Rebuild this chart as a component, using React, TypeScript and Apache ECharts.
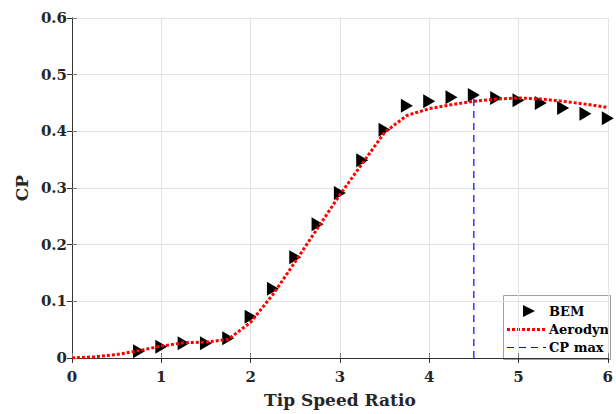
import React, { useEffect, useRef } from "react";
import * as echarts from "echarts";

const xBem = [0.75, 1.0, 1.25, 1.5, 1.75, 2.0, 2.25, 2.5, 2.75, 3.0, 3.25, 3.5, 3.75, 4.0, 4.25, 4.5, 4.75, 5.0, 5.25, 5.5, 5.75, 6.0];
const cpBem = [0.012, 0.02, 0.026, 0.026, 0.035, 0.073, 0.122, 0.178, 0.236, 0.291, 0.349, 0.403, 0.445, 0.453, 0.46, 0.464, 0.459, 0.455, 0.45, 0.441, 0.431, 0.423];

const xAero = [0, 0.25, 0.5, 0.75, 1.0, 1.25, 1.5, 1.75, 2.0, 2.25, 2.5, 2.75, 3.0, 3.25, 3.5, 3.75, 4.0, 4.25, 4.5, 4.75, 5.0, 5.25, 5.5, 5.75, 6.0];
const cpAero = [0, 0.002, 0.006, 0.013, 0.021, 0.027, 0.028, 0.033, 0.063, 0.112, 0.17, 0.229, 0.288, 0.343, 0.398, 0.428, 0.44, 0.447, 0.453, 0.457, 0.459, 0.457, 0.453, 0.448, 0.442];

const cpMaxX = 4.5;
const cpMaxY = 0.463;

const xTicks = [0, 1, 2, 3, 4, 5, 6];
const yTicks = [0, 0.1, 0.2, 0.3, 0.4, 0.5, 0.6];

const legendNames = ["BEM", "Aerodyn", "CP max"];

const FONT = "DejaVu Serif";
const TRI = "path://M0,0 L10,6 L0,12 Z";

export default function App() {
  const ref = useRef<HTMLDivElement>(null);
  useEffect(() => {
    const chart = echarts.init(ref.current!, null, { renderer: "svg" });
    const axisText = { fontFamily: FONT, fontWeight: "bold", fontSize: 15, color: "#262626" };
    const legendFont = { fontFamily: FONT, fontWeight: "bold", fontSize: 13, fill: "#000" };
    const rowY = [311, 329.5, 347.5];
    chart.setOption({
      animation: false,
      backgroundColor: "#ffffff",
      grid: { left: 72, right: 7, top: 18, bottom: 56 },
      graphic: [
        {
          type: "group",
          z: 100,
          children: [
            {
              type: "rect",
              shape: { x: 503.5, y: 295.5, width: 107, height: 64 },
              style: { fill: "#ffffff", stroke: "#a0a0a0", lineWidth: 1 },
            },
            {
              type: "polygon",
              shape: { points: [[523, 305], [535, 311], [523, 317]] },
              style: { fill: "#000000" },
            },
            {
              type: "line",
              shape: { x1: 507, y1: rowY[1], x2: 546, y2: rowY[1] },
              style: { stroke: "#ff0000", lineWidth: 3, lineDash: [3, 2] },
            },
            {
              type: "line",
              shape: { x1: 507, y1: rowY[2], x2: 546, y2: rowY[2] },
              style: { stroke: "#0000ff", lineWidth: 1.2, lineDash: [7, 5] },
            },
            ...legendNames.map((t, i) => ({
              type: "text",
              x: 549,
              y: rowY[i],
              style: { ...legendFont, text: t, verticalAlign: "middle", align: "left" },
            })),
          ],
        },
      ],
      xAxis: [
        {
          type: "value",
          min: 0,
          max: 6,
          interval: 1,
          name: "Tip Speed Ratio",
          nameLocation: "middle",
          nameGap: 33,
          nameTextStyle: { fontFamily: FONT, fontWeight: "bold", fontSize: 17, color: "#262626" },
          axisLine: { show: true, lineStyle: { color: "#7a7a7a", width: 1 } },
          axisTick: { show: true, inside: true, length: 5, lineStyle: { color: "#7a7a7a" } },
          axisLabel: { ...axisText, margin: 11, formatter: (v: number) => (xTicks.includes(v) ? String(v) : "") },
          splitLine: { show: true, lineStyle: { color: "#e3e3e3", width: 1 } },
        },
        {
          type: "value",
          position: "top",
          min: 0,
          max: 6,
          interval: 1,
          axisLine: { show: true, lineStyle: { color: "#333", width: 1 } },
          axisTick: { show: true, inside: true, length: 5, lineStyle: { color: "#333" } },
          axisLabel: { show: false },
          splitLine: { show: false },
        },
      ],
      yAxis: [
        {
          type: "value",
          min: 0,
          max: 0.6,
          interval: 0.1,
          name: "CP",
          nameLocation: "middle",
          nameGap: 38,
          nameRotate: 90,
          nameTextStyle: { fontFamily: FONT, fontWeight: "bold", fontSize: 17, color: "#262626" },
          axisLine: { show: true, lineStyle: { color: "#7a7a7a", width: 1 } },
          axisTick: { show: true, inside: true, length: 5, lineStyle: { color: "#7a7a7a" } },
          axisLabel: {
            ...axisText,
            margin: 5,
            formatter: (v: number) => {
              const r = Math.round(v * 10) / 10;
              return yTicks.includes(r) ? (r === 0 ? "0" : r.toFixed(1)) : "";
            },
          },
          splitLine: { show: true, lineStyle: { color: "#e3e3e3", width: 1 } },
        },
        {
          type: "value",
          position: "right",
          min: 0,
          max: 0.6,
          interval: 0.1,
          axisLine: { show: true, lineStyle: { color: "#333", width: 1 } },
          axisTick: { show: true, inside: true, length: 5, lineStyle: { color: "#333" } },
          axisLabel: { show: false },
          splitLine: { show: false },
        },
      ],
      series: [
        {
          name: legendNames[0],
          type: "scatter",
          symbol: TRI,
          symbolSize: [12, 14],
          itemStyle: { color: "#000000", opacity: 1 },
          data: xBem.map((x, i) => [x, cpBem[i]]),
          z: 2,
        },
        {
          name: legendNames[1],
          type: "line",
          symbol: "none",
          showSymbol: false,
          lineStyle: { color: "#ff0000", width: 3, type: [3, 2] },
          itemStyle: { color: "#ff0000" },
          data: xAero.map((x, i) => [x, cpAero[i]]),
          z: 3,
        },
        {
          name: legendNames[2],
          type: "line",
          symbol: "none",
          showSymbol: false,
          lineStyle: { color: "#0000ff", width: 1.2, type: [7, 5] },
          itemStyle: { color: "#0000ff" },
          data: [
            [cpMaxX, 0],
            [cpMaxX, cpMaxY],
          ],
          z: 4,
        },
      ],
    });
    return () => chart.dispose();
  }, []);
  return <div ref={ref} style={{ position: "fixed", left: 0, top: 0, width: 616, height: 414 }} />;
}
